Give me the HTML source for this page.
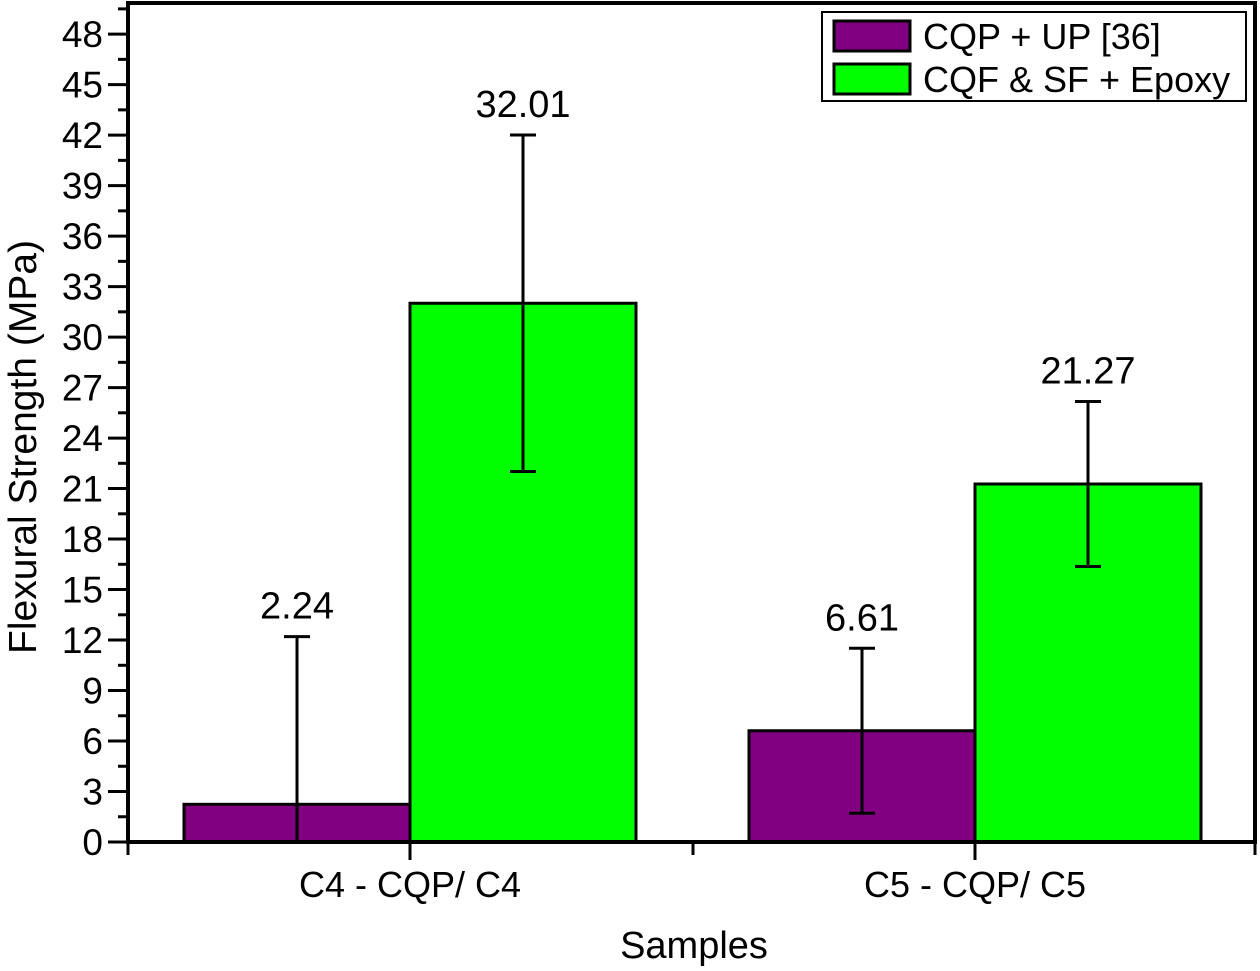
<!DOCTYPE html>
<html><head><meta charset="utf-8"><style>
body{margin:0;background:#fff}
svg{display:block;font-family:"Liberation Sans",Arial,sans-serif}
</style></head><body>
<svg id="chart" width="1260" height="971" viewBox="0 0 1260 971">
<g id="yticks"></g>
<g id="bars"></g>
<rect x="128" y="3" width="1127" height="839" fill="none" stroke="#000" stroke-width="4"/>
<g id="xticks"></g>
<text x="36" y="447" font-size="39" text-anchor="middle" transform="rotate(-90 36 447)">Flexural Strength (MPa)</text>
<text x="694" y="958" font-size="38" text-anchor="middle">Samples</text>
<g>
<rect x="822" y="12" width="424" height="89" fill="#fff" stroke="#000" stroke-width="2"/>
<rect x="834" y="21" width="76" height="30" fill="#800080" stroke="#000" stroke-width="3"/>
<text x="923" y="49" font-size="36">CQP + UP [36]</text>
<rect x="834" y="64" width="76" height="30" fill="#00ff00" stroke="#000" stroke-width="3"/>
<text x="923" y="92" font-size="36">CQF &amp; SF + Epoxy</text>
</g>
</svg>
<script>
const categories = ["C4 - CQP/ C4", "C5 - CQP/ C5"];
const seriesNames = ["CQP + UP [36]", "CQF & SF + Epoxy"];
const cqpUp = [2.24, 6.61];
const cqfEpoxy = [32.01, 21.27];
const cqpUpErr = [9.96, 4.9];
const cqfEpoxyErr = [10.0, 4.9];
const valueLabels = [["2.24","6.61"],["32.01","21.27"]];
const yTicks = [0,3,6,9,12,15,18,21,24,27,30,33,36,39,42,45,48];

const NS="http://www.w3.org/2000/svg";
const y0=842, yTop=3, yMax=49.85;
const y=v=>y0-Math.max(v,0)*(y0-yTop)/yMax;
const cx=i=>410+i*565;
const bw=226;
function mk(tag,attrs,parent){const e=document.createElementNS(NS,tag);for(const k in attrs)e.setAttribute(k,attrs[k]);parent.appendChild(e);return e;}
const yt=document.getElementById('yticks');
yTicks.forEach(v=>{
  let l=mk('line',{x1:108,x2:128,y1:y(v),y2:y(v),stroke:'#000','stroke-width':3},yt);
  
  
  let m=mk('line',{x1:118,x2:128,y1:y(v+1.5),y2:y(v+1.5),stroke:'#000','stroke-width':3},yt);
  
  
  let t=mk('text',{x:103,y:y(v)+13,'font-size':37,'text-anchor':'end'},yt);
  t.textContent=v;
  
  
});
const bars=document.getElementById('bars');
const series=[[cqpUp,cqpUpErr,'#800080',-1],[cqfEpoxy,cqfEpoxyErr,'#00ff00',0]];
series.forEach((s,si)=>{
  s[0].forEach((v,i)=>{
    const x=cx(i)+s[3]*bw;
    let r=mk('rect',{x:x,y:y(v),width:bw,height:y0-y(v),fill:s[2],stroke:'#000','stroke-width':3},bars);
    
    
    const mx=x+bw/2, hi=v+s[1][i], lo=v-s[1][i];
    let e=mk('path',{d:`M${mx},${y(hi)}V${y(lo)}M${mx-13},${y(hi)}H${mx+13}`+(lo>0?`M${mx-13},${y(lo)}H${mx+13}`:''),stroke:'#000','stroke-width':3,fill:'none'},bars);
    
    
    let t=mk('text',{x:mx,y:y(hi)-18,'font-size':38,'text-anchor':'middle'},bars);
    t.textContent=valueLabels[si][i];
    
    
  });
});
const xt=document.getElementById('xticks');
[128,693,1255].forEach(px=>{
  let l=mk('line',{x1:px,x2:px,y1:842,y2:855,stroke:'#000','stroke-width':3},xt);
  
  
});
categories.forEach((c,i)=>{
  let l=mk('line',{x1:cx(i),x2:cx(i),y1:842,y2:860,stroke:'#000','stroke-width':3},xt);
  
  
  let t=mk('text',{x:cx(i),y:897,'font-size':36,'text-anchor':'middle'},xt);
  t.textContent=c;
  
  
});
</script>
</body></html>
